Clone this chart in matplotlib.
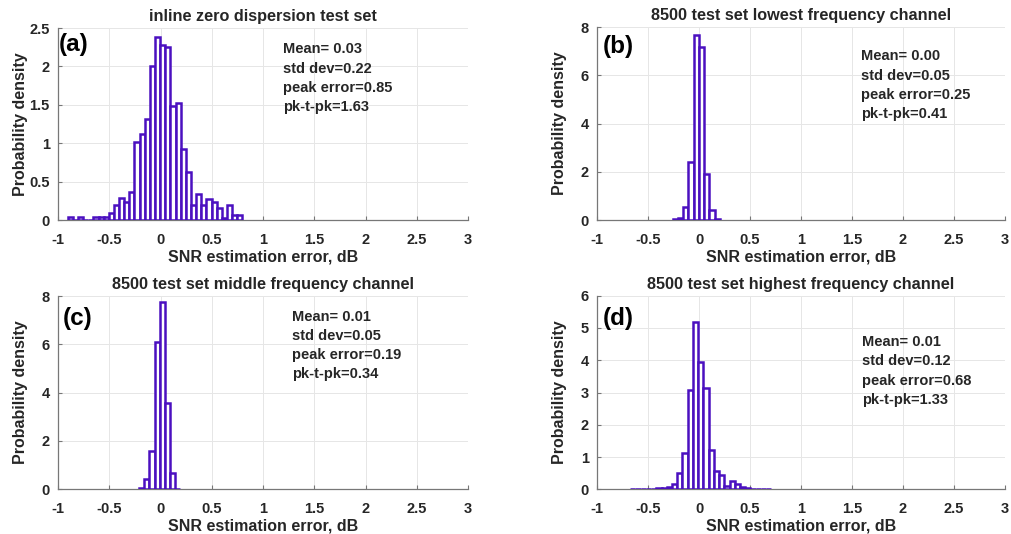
import numpy as np
import matplotlib
matplotlib.use("Agg")
import matplotlib.pyplot as plt

plt.rcParams['font.family'] = ['Liberation Sans', 'DejaVu Sans']
plt.rcParams['font.weight'] = 'bold'

# ---- data (histogram bins: first edge, bin width, densities) ----
a_start, a_width = -0.905, 0.0501
a_density = [0.035, 0.0, 0.035, 0.0, 0.0, 0.035, 0.035, 0.035, 0.095, 0.20, 0.29, 0.23, 0.37,
             1.02, 1.12, 1.32, 2.01, 2.38, 2.28, 2.25, 1.49, 1.52, 0.93, 0.63,
             0.20, 0.34, 0.20, 0.27, 0.24, 0.16, 0.03, 0.20, 0.07, 0.07]

b_start, b_width = -0.256, 0.051
b_density = [0.04, 0.10, 0.53, 2.39, 7.68, 7.17, 1.91, 0.41, 0.03]

c_start, c_width = -0.208, 0.0503
c_density = [0.07, 0.41, 1.59, 6.11, 7.74, 3.57, 0.66, 0.03]

d_start, d_width = -0.675, 0.0513
d_density = [0.005, 0.005, 0.005, 0.01, 0.01, 0.05, 0.03, 0.08, 0.17, 0.50, 1.14, 3.08,
             5.18, 3.96, 3.13, 1.22, 0.57, 0.44, 0.11, 0.26, 0.15, 0.08, 0.04, 0.02,
             0.01, 0.01, 0.005]

titles = ["inline zero dispersion test set",
          "8500 test set lowest frequency channel",
          "8500 test set middle frequency channel",
          "8500 test set highest frequency channel"]
panel_tags = ["(a)", "(b)", "(c)", "(d)"]
stats = [["Mean= 0.03", "std dev=0.22", "peak error=0.85", "pk-t-pk=1.63"],
         ["Mean= 0.00", "std dev=0.05", "peak error=0.25", "pk-t-pk=0.41"],
         ["Mean= 0.01", "std dev=0.05", "peak error=0.19", "pk-t-pk=0.34"],
         ["Mean= 0.01", "std dev=0.12", "peak error=0.68", "pk-t-pk=1.33"]]
x_ticks = [-1, -0.5, 0, 0.5, 1, 1.5, 2, 2.5, 3]
x_ticklabels = ["-1", "-0.5", "0", "0.5", "1", "1.5", "2", "2.5", "3"]
y_ticks = [[0, 0.5, 1, 1.5, 2, 2.5], [0, 2, 4, 6, 8], [0, 2, 4, 6, 8], [0, 1, 2, 3, 4, 5, 6]]
y_ticklabels = [["0", "0.5", "1", "1.5", "2", "2.5"], ["0", "2", "4", "6", "8"],
                ["0", "2", "4", "6", "8"], ["0", "1", "2", "3", "4", "5", "6"]]
xlabel = "SNR estimation error, dB"
ylabel = "Probability density"

hists = [(a_start, a_width, a_density), (b_start, b_width, b_density),
         (c_start, c_width, c_density), (d_start, d_width, d_density)]

# ---- layout (pixels) ----
W, H = 1011, 534
boxes = [(58, 468, 28, 220), (597, 1005, 27.3, 220),
         (58, 468, 296, 489.3), (597, 1005, 295.7, 489.3)]
stat_pos = [(282.7, [49.3, 69, 88.3, 107.3]),
            (860.7, [56.5, 75.7, 95, 114.3]),
            (291.7, [316.7, 336, 355, 374]),
            (862, [342, 361.3, 380.6, 400])]
tag_pos = [(58.5, 45), (602.5, 47), (62.5, 318.5), (602.5, 319)]

bar_color = '#4b10c0'
txt_color = '#262626'

fig = plt.figure(figsize=(W / 100, H / 100), dpi=100)
for i in range(4):
    x0, x1, y0, y1 = boxes[i]
    ax = fig.add_axes([x0 / W, 1 - y1 / H, (x1 - x0) / W, (y1 - y0) / H])
    start, width, dens = hists[i]
    edges = start + width * np.arange(len(dens))
    ax.bar(edges, dens, width=width, align='edge', facecolor='white',
           edgecolor=bar_color, linewidth=1.8, zorder=3)
    ax.set_xlim(-1, 3)
    ax.set_ylim(y_ticks[i][0], y_ticks[i][-1])
    ax.set_xticks(x_ticks)
    ax.set_xticklabels(x_ticklabels)
    ax.set_yticks(y_ticks[i])
    ax.set_yticklabels(y_ticklabels[i])
    ax.tick_params(direction='in', length=3, width=0.8, colors='#777777',
                   labelcolor=txt_color, labelsize=10.5)
    ax.tick_params(axis='x', pad=9)
    ax.tick_params(axis='y', pad=6)
    for lab in ax.get_xticklabels() + ax.get_yticklabels():
        lab.set_fontweight('bold')
    ax.grid(True, color='#e6e6e6', linewidth=0.7, zorder=0)
    ax.set_axisbelow(True)
    for s in ['top', 'right']:
        ax.spines[s].set_visible(False)
    for s in ['left', 'bottom']:
        ax.spines[s].set_color('#777777')
        ax.spines[s].set_linewidth(0.9)
    ax.set_title(titles[i], fontsize=11.7, fontweight='bold', color=txt_color, pad=5)
    ax.set_xlabel(xlabel, fontsize=11.5, fontweight='bold', color=txt_color)
    ax.set_ylabel(ylabel, fontsize=11.5, fontweight='bold', color=txt_color)
    ax.xaxis.set_label_coords(0.5, -36.7 / (y1 - y0))
    ax.yaxis.set_label_coords(-37.3 / (x1 - x0), 0.5)
    ax.xaxis.label.set_va('center')
    ax.yaxis.label.set_va('center')
    # stats text
    sx, sys_ = stat_pos[i]
    for line, sy in zip(stats[i], sys_):
        ax.text((sx - x0) / (x1 - x0), (y1 - sy) / (y1 - y0), line,
                transform=ax.transAxes, ha='left', va='center',
                fontsize=10.5, fontweight='bold', color=txt_color)
    tx, ty = tag_pos[i]
    ax.text((tx - x0) / (x1 - x0), (y1 - ty) / (y1 - y0), panel_tags[i],
            transform=ax.transAxes, ha='left', va='center',
            fontsize=17.5, fontweight='bold', color='black')

fig.savefig('out.png', dpi=100)
